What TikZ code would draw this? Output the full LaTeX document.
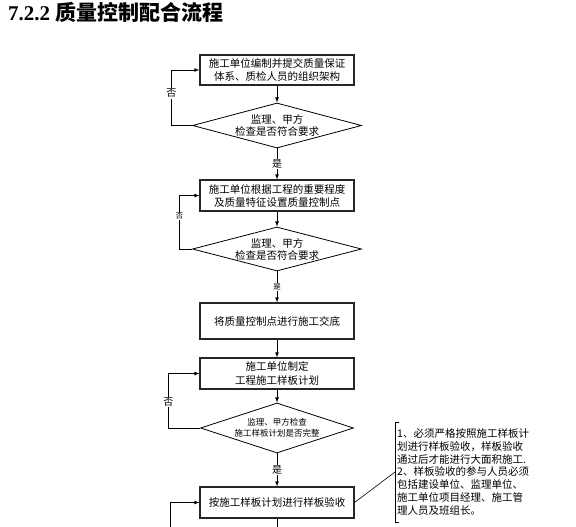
\documentclass[tikz,border=0pt]{standalone}
\usepackage{fontspec}
\setmainfont{Liberation Serif}
\newfontfamily\cjk{Noto Sans CJK SC}
\usetikzlibrary{shapes.geometric}
\tikzstyle{procBox}=[shape = rectangle, draw = black!85, line width = 1.1pt, minimum width = 154pt, inner sep = 2pt, align = center, font = \cjk\fontsize{10.5}{13}\selectfont]
\tikzstyle{checkDia}=[shape = diamond, draw, line width = 0.8pt, inner sep = 0pt]
\tikzstyle{flow}=[draw, line width = 0.8pt, -latex]

\begin{document}
\begin{tikzpicture}[x = 1pt, y = -1pt]
\tikzstyle{diaText}=[align = center, font = \cjk\fontsize{10.5}{12}\selectfont]
\tikzstyle{yesNo}=[fill = white, inner sep = 1pt, font = \cjk\fontsize{10}{10}\selectfont]
\tikzstyle{yesNoSmall}=[fill = white, inner sep = 1pt, font = \cjk\fontsize{7.5}{7.5}\selectfont]
\useasboundingbox (0,0) rectangle (576,527);
\node[anchor = west, inner sep = 0pt, font = \bfseries\fontsize{21}{22}\selectfont] (title) at (8,12) {7.2.2 {\cjk 质量控制配合流程}};
\node[procBox, minimum height = 30pt] (b1) at (277,70) {施工单位编制并提交质量保证\\体系、质检人员的组织架构};
\node[checkDia, minimum width = 169pt, minimum height = 45pt] (d1) at (277,125.5) {};
\node[diaText] (d1t) at (d1.center) {监理、甲方\\检查是否符合要求};
\node[procBox, minimum height = 31pt] (b2) at (277,195.5) {施工单位根据工程的重要程度\\及质量特征设置质量控制点};
\node[checkDia, minimum width = 169pt, minimum height = 44pt] (d2) at (277,249) {};
\node[diaText] (d2t) at (d2.center) {监理、甲方\\检查是否符合要求};
\node[procBox, minimum height = 36pt] (b3) at (277,321) {将质量控制点进行施工交底};
\node[procBox, minimum height = 31pt, font = \cjk\fontsize{10.5}{14.5}\selectfont] (b4) at (277,373.5) {施工单位制定\\工程施工样板计划};
\node[checkDia, minimum width = 153pt, minimum height = 50pt] (d3) at (277,428) {};
\node[diaText, font = \cjk\fontsize{8.5}{11}\selectfont] (d3t) at (d3.center) {监理、甲方检查\\施工样板计划是否完整};
\node[procBox, minimum height = 31pt] (b5) at (277,502.5) {按施工样板计划进行样板验收};
\node[anchor = west, align = left, inner xsep = 2pt, inner ysep = 0pt, minimum height = 100pt, font = \cjk\fontsize{10.5}{12.7}\selectfont] (note) at (395,472) {1、必须严格按照施工样板计\\划进行样板验收，样板验收\\通过后才能进行大面积施工.\\2、样板验收的参与人员必须\\包括建设单位、监理单位、\\施工单位项目经理、施工管\\理人员及班组长。};
\coordinate (l1) at ([xshift = -28pt]b1.west);
\coordinate (l2) at ([xshift = -20pt]b2.west);
\coordinate (l3) at ([xshift = -31pt]b4.west);
\coordinate (lb) at (170,527);
\coordinate (bot) at (277,527);
\draw[flow] (b1) -- (d1);
\draw[flow] (d1) -- node[yesNo] {是} (b2);
\draw[flow] (b2) -- (d2);
\draw[flow] (d2) -- node[yesNoSmall] {是} (b3);
\draw[flow] (b3) -- (b4);
\draw[flow] (b4) -- (d3);
\draw[flow] (d3) -- node[yesNo] {是} (b5);
\draw[flow] (d1.west) -- (d1.west -| l1) -- node[yesNo, pos = 0.58] {否} (l1) -- (b1.west);
\draw[flow] (d2.west) -- (d2.west -| l2) -- node[yesNoSmall, pos = 0.62] {否} (l2) -- (b2.west);
\draw[flow] (d3.west) -- (d3.west -| l3) -- node[yesNo, pos = 0.48] {否} (l3) -- (b4.west);
\draw[flow] (lb) |- (b5.west);
\draw[line width = 0.8pt] (b5) -- (bot);
\draw[line width = 0.6pt] ([xshift = 4pt]note.north west) -- (note.north west) -- (note.south west) -- ([xshift = 4pt]note.south west);
\draw[line width = 0.6pt] (b5.east) -- (note.west);
\end{tikzpicture}
\end{document}
